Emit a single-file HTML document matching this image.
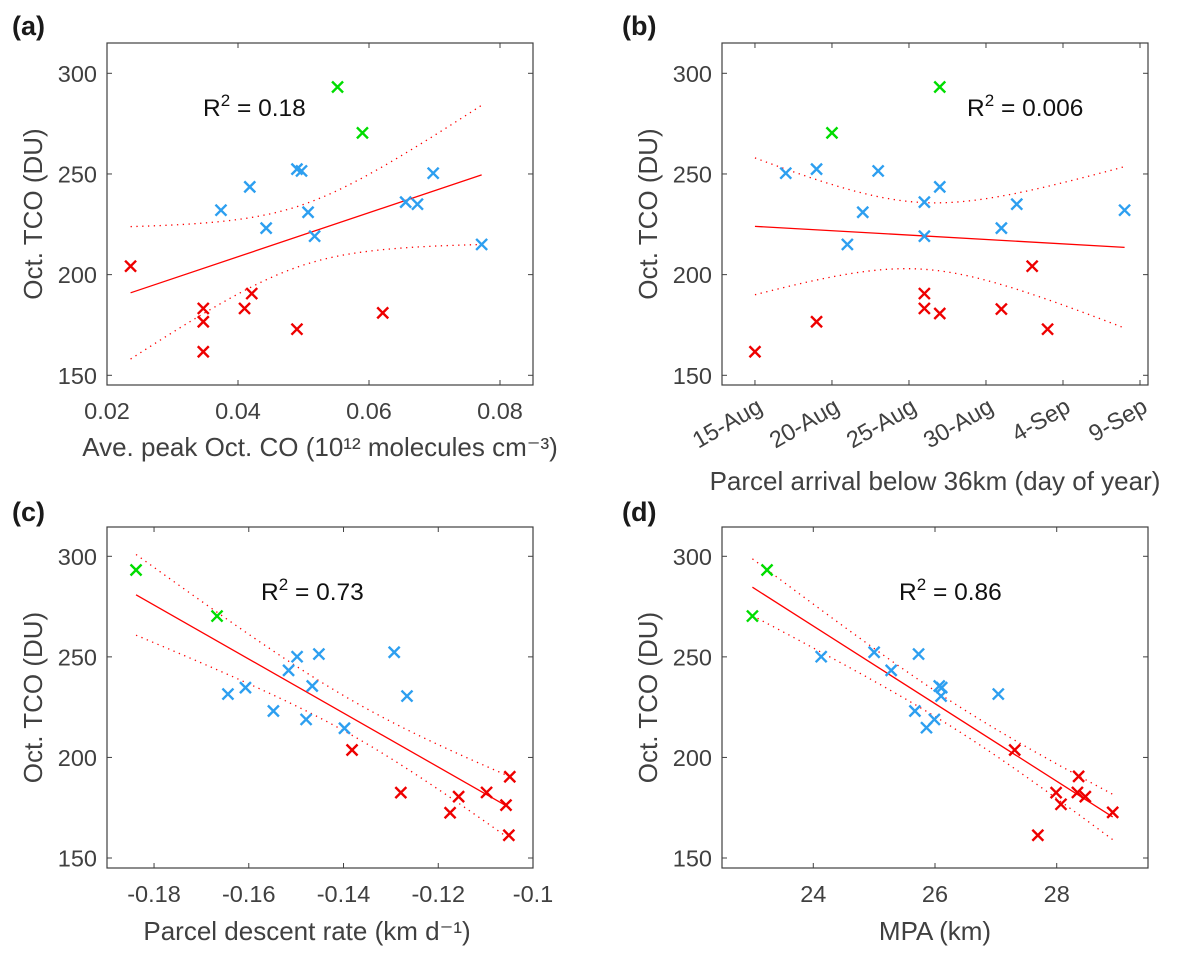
<!DOCTYPE html>
<html><head><meta charset="utf-8"><style>
html,body{margin:0;padding:0;background:#fff;}
svg{display:block;font-family:"Liberation Sans",Arial,sans-serif;}
</style></head><body>
<svg id="fig" width="1180" height="957" viewBox="0 0 1180 957"></svg>
<script>
// Panel (a)
const aRedX=[0.0236,0.0347,0.0347,0.0347,0.0410,0.0421,0.0490,0.0621];
const aRedY=[204.2,183.2,176.6,161.7,183.2,190.6,172.9,181.0];
const aBlueX=[0.0374,0.0418,0.0443,0.0490,0.0497,0.0507,0.0517,0.0656,0.0674,0.0698,0.0772];
const aBlueY=[232.0,243.6,223.1,252.4,251.5,231.0,219.1,236.0,235.0,250.4,215.0];
const aGreenX=[0.0552,0.0590];
const aGreenY=[293.2,270.4];
const aTicks=[0.02,0.04,0.06,0.08];
const aTickLabels=["0.02","0.04","0.06","0.08"];
// Panel (b) days after 15-Aug
const bRedX=[0,4,11,11,12,16,18,19];
const bRedY=[161.7,176.6,190.6,183.2,180.7,182.9,204.2,172.9];
const bBlueX=[2,4,6,7,8,11,11,12,16,17,24];
const bBlueY=[250.4,252.4,215.0,231.0,251.5,236.0,219.1,243.6,223.1,235.0,232.0];
const bGreenX=[12,5];
const bGreenY=[293.2,270.4];
const bTicks=[0,5,10,15,20,25];
const bTickLabels=["15-Aug","20-Aug","25-Aug","30-Aug","4-Sep","9-Sep"];
// Panel (c)
const cRedX=[-0.1382,-0.1279,-0.1175,-0.1157,-0.1098,-0.1057,-0.1049,-0.1051];
const cRedY=[203.7,182.5,172.5,180.5,182.6,176.3,190.4,161.3];
const cBlueX=[-0.1644,-0.1607,-0.1548,-0.1516,-0.1498,-0.1452,-0.1466,-0.1479,-0.1398,-0.1293,-0.1266];
const cBlueY=[231.5,234.7,223.1,243.3,250.1,251.4,235.5,218.9,214.5,252.3,230.5];
const cGreenX=[-0.1838,-0.1667];
const cGreenY=[293.2,270.3];
const cTicks=[-0.18,-0.16,-0.14,-0.12,-0.1];
const cTickLabels=["-0.18","-0.16","-0.14","-0.12","-0.1"];
// Panel (d)
const dRedX=[27.31,27.99,28.07,27.69,28.34,28.36,28.47,28.92];
const dRedY=[203.7,182.5,176.7,161.3,182.6,190.6,180.5,172.7];
const dBlueX=[24.13,25.00,25.28,25.73,25.67,25.86,25.99,26.07,26.11,26.10,27.04];
const dBlueY=[250.1,252.3,243.3,251.4,223.1,214.8,218.9,235.5,234.7,230.5,231.5];
const dGreenX=[23.24,23.0];
const dGreenY=[293.2,270.3];
const dTicks=[24,26,28];
const dTickLabels=["24","26","28"];
const yTicks=[150,200,250,300];
const yTickLabels=["150","200","250","300"];

const NS="http://www.w3.org/2000/svg";
const svg=document.getElementById('fig');
function mk(tag,attrs,parent,txt){const e=document.createElementNS(NS,tag);for(const k in attrs)e.setAttribute(k,attrs[k]);if(txt!==undefined)e.textContent=txt;(parent||svg).appendChild(e);return e;}

function panel(o){
  const g=mk('g',{});
  
  
  const L=o.left,R=o.left+426,T=o.top,B=o.bottom;
  const sx=v=>L+(v-o.xmin)/(o.xmax-o.xmin)*(R-L);
  const sy=v=>o.y300+(300-v)*(o.y150-o.y300)/150;
  const fr=mk('rect',{x:L,y:T,width:R-L,height:B-T,fill:'none',stroke:'#404040','stroke-width':1.2},g);
  
  
  yTicks.forEach((v,i)=>{const y=sy(v);
    mk('line',{x1:L,x2:L+5,y1:y,y2:y,stroke:'#404040','stroke-width':1},g);
    mk('line',{x1:R,x2:R-5,y1:y,y2:y,stroke:'#404040','stroke-width':1},g);
    const t=mk('text',{x:L-10,y:y+8.5,'text-anchor':'end','font-size':23.5,fill:'#404040'},g,yTickLabels[i]);
    
    
  });
  o.ticks.forEach((v,i)=>{const x=sx(v);
    mk('line',{x1:x,x2:x,y1:B,y2:B-5,stroke:'#404040','stroke-width':1},g);
    mk('line',{x1:x,x2:x,y1:T,y2:T+5,stroke:'#404040','stroke-width':1},g);
    let t;
    if(o.rot){t=mk('text',{x:x+9,y:B+26,'text-anchor':'end','font-size':23.5,fill:'#404040',transform:`rotate(-30 ${x+9} ${B+26})`},g,o.tickLabels[i]);}
    else{t=mk('text',{x:x,y:B+34,'text-anchor':'middle','font-size':23.5,fill:'#404040'},g,o.tickLabels[i]);}
    
    
  });
  const yl=mk('text',{x:0,y:0,'text-anchor':'middle','font-size':26,fill:'#404040',transform:`translate(${L-65} ${(T+B)/2}) rotate(-90)`},g,'Oct. TCO (DU)');
  
  
  const xl=mk('text',{x:o.xlx,y:o.xly,'text-anchor':'middle','font-size':26,fill:'#404040'},g);
  xl.textContent=o.xlabel;
  
  
  const pl=mk('text',{x:o.plx,y:o.ply,'font-size':27,'font-weight':'bold',fill:'#1a1a1a'},g,'('+o.id+')');
  
  
  const r2=mk('text',{x:o.r2x,y:o.r2y,'font-size':24.5,fill:'#111'},g);
  r2.innerHTML='R<tspan dy="-10" font-size="17">2</tspan><tspan dy="10"> = '+o.r2+'</tspan>';
  
  
  const X=o.rx.concat(o.bx,o.gx),Y=o.ry.concat(o.by,o.gy),n=X.length;
  const xm=X.reduce((a,b)=>a+b)/n,ym=Y.reduce((a,b)=>a+b)/n;
  let sxx=0,sxy=0;X.forEach((x,i)=>{sxx+=(x-xm)**2;sxy+=(x-xm)*(Y[i]-ym);});
  const b1=sxy/sxx,b0=ym-b1*xm;
  let sse=0;X.forEach((x,i)=>{sse+=(Y[i]-b0-b1*x)**2;});
  const s=Math.sqrt(sse/(n-2)),tq=2.093;
  const x0=Math.min(...X),x1=Math.max(...X);
  const fl=mk('line',{x1:sx(x0),y1:sy(b0+b1*x0),x2:sx(x1),y2:sy(b0+b1*x1),stroke:'#ff0000','stroke-width':1.3},g);
  
  
  [1,-1].forEach(sg=>{let d='';
    for(let k=0;k<=60;k++){const x=x0+(x1-x0)*k/60;const h=tq*s*Math.sqrt(1/n+(x-xm)**2/sxx);
      d+=(k?'L':'M')+sx(x).toFixed(2)+' '+sy(b0+b1*x+sg*h).toFixed(2);}
    const p=mk('path',{d:d,fill:'none',stroke:'#ff0000','stroke-width':1.3,'stroke-dasharray':'1.3 4.5'},g);
    
    
  });
  const mark=(xs,ys,col,nm)=>xs.forEach((x,i)=>{const cx=sx(x),cy=sy(ys[i]),r=5.5;
    const p=mk('path',{d:`M${cx-r} ${cy-r}L${cx+r} ${cy+r}M${cx-r} ${cy+r}L${cx+r} ${cy-r}`,stroke:col,'stroke-width':2.4,fill:'none'},g);
    
    
  });
  mark(o.bx,o.by,'#2d9ff0','blue-point');
  mark(o.rx,o.ry,'#ee0000','red-point');
  mark(o.gx,o.gy,'#00dd00','green-point');
}

panel({id:'a',left:107,top:43,bottom:385,y300:73.3,y150:375.3,xmin:0.02,xmax:0.08504,ticks:aTicks,tickLabels:aTickLabels,
  rx:aRedX,ry:aRedY,bx:aBlueX,by:aBlueY,gx:aGreenX,gy:aGreenY,
  xlabel:'Ave. peak Oct. CO (10¹² molecules cm⁻³)',xlx:320,xly:456,plx:12,ply:35,r2x:203,r2y:116,r2:'0.18'});
panel({id:'b',left:722,top:43,bottom:385,y300:73.3,y150:375.3,xmin:-2.14,xmax:25.52,ticks:bTicks,tickLabels:bTickLabels,rot:true,
  rx:bRedX,ry:bRedY,bx:bBlueX,by:bBlueY,gx:bGreenX,gy:bGreenY,
  xlabel:'Parcel arrival below 36km (day of year)',xlx:935,xly:490,plx:622,ply:35,r2x:967,r2y:116,r2:'0.006'});
panel({id:'c',left:107,top:527,bottom:868,y300:556.3,y150:858,xmin:-0.18993,xmax:-0.1,ticks:cTicks,tickLabels:cTickLabels,
  rx:cRedX,ry:cRedY,bx:cBlueX,by:cBlueY,gx:cGreenX,gy:cGreenY,
  xlabel:'Parcel descent rate (km d⁻¹)',xlx:307,xly:940,plx:12,ply:521,r2x:261,r2y:600,r2:'0.73'});
panel({id:'d',left:722,top:527,bottom:868,y300:556.3,y150:858,xmin:22.5,xmax:29.5,ticks:dTicks,tickLabels:dTickLabels,
  rx:dRedX,ry:dRedY,bx:dBlueX,by:dBlueY,gx:dGreenX,gy:dGreenY,
  xlabel:'MPA (km)',xlx:935,xly:940,plx:622,ply:521,r2x:899,r2y:600,r2:'0.86'});
</script>
</body></html>
